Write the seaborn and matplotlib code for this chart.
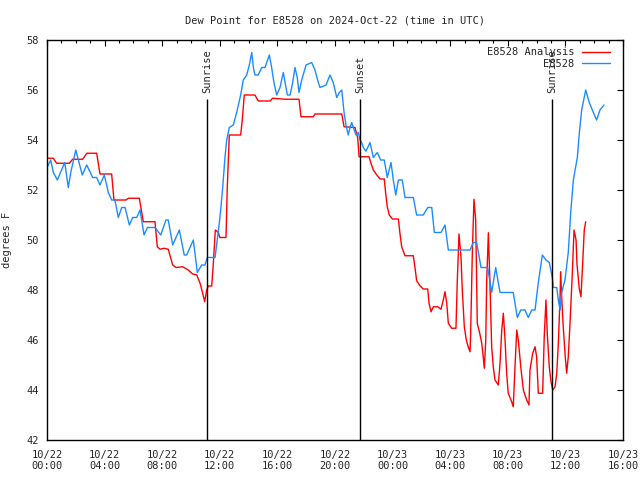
import matplotlib
matplotlib.use("Agg")
import matplotlib.pyplot as plt
import numpy as np
import pandas as pd
import seaborn as sns
from matplotlib.ticker import MultipleLocator

sns.set_theme(style="white")
plt.rcParams["font.family"] = ["DejaVu Sans Mono", "DejaVu Sans"]

# hours since 2024-10-22 00:00 UTC, dew point in degrees F
obs_hours = [0.0, 0.26, 0.44, 0.72, 1.23, 1.48, 1.65, 2.0, 2.45, 2.76, 3.17, 3.45, 3.68, 3.98,
             4.26, 4.49, 4.72, 4.95, 5.19, 5.42, 5.72, 5.95, 6.23, 6.46, 6.74, 6.97, 7.5, 7.9,
             8.26, 8.42, 8.73, 9.19, 9.53, 9.7, 10.16, 10.44, 10.74, 10.97, 11.13, 11.67, 11.8,
             11.95, 12.06, 12.2, 12.36, 12.48, 12.66, 12.94, 13.17, 13.45, 13.63, 13.87, 14.05,
             14.22, 14.33, 14.44, 14.67, 14.91, 15.14, 15.44, 15.6, 15.76, 15.95, 16.18, 16.41,
             16.69, 16.88, 17.06, 17.22, 17.38, 17.5, 17.69, 17.99, 18.38, 18.61, 18.84, 18.96,
             19.38, 19.65, 19.88, 20.12, 20.3, 20.47, 20.63, 20.76, 20.92, 21.04, 21.16, 21.27,
             21.46, 21.62, 21.74, 21.85, 21.97, 22.15, 22.43, 22.66, 22.94, 23.17, 23.42, 23.63,
             23.89, 24.05, 24.22, 24.4, 24.67, 24.86, 25.44, 25.67, 26.13, 26.44, 26.72, 26.9,
             27.36, 27.64, 27.87, 29.38, 29.6, 29.84, 30.14, 30.6, 30.88, 31.16, 31.46, 32.38,
             32.66, 32.9, 33.19, 33.42, 33.66, 33.89, 34.12, 34.4, 34.65, 34.88, 35.09, 35.16,
             35.4, 35.51, 35.63, 35.74, 35.97, 36.2, 36.37, 36.55, 36.83, 36.97, 37.13, 37.41,
             37.66, 37.94, 38.17, 38.4, 38.68]
obs_dewpt = [52.9, 53.2, 52.7, 52.4, 53.1, 52.1, 52.7, 53.6, 52.6, 53.0, 52.5, 52.5, 52.2, 52.6,
             51.9, 51.6, 51.6, 50.9, 51.3, 51.3, 50.6, 50.9, 50.9, 51.2, 50.2, 50.5, 50.5, 50.2,
             50.8, 50.8, 49.8, 50.4, 49.4, 49.4, 50.0, 48.7, 49.0, 49.0, 49.3, 49.3, 49.9,
             50.6, 51.2, 52.1, 53.3, 54.0, 54.5, 54.6, 55.1, 55.8, 56.4, 56.6, 57.0,
             57.5, 56.9, 56.6, 56.6, 56.9, 56.9, 57.4, 56.9, 56.3, 55.8, 56.1, 56.7,
             55.8, 55.8, 56.3, 56.9, 56.5, 55.9, 56.4, 57.0, 57.1, 56.8, 56.3, 56.1,
             56.2, 56.6, 56.3, 55.7, 55.9, 56.0, 55.1, 54.6, 54.2, 54.5, 54.7, 54.5,
             54.2, 54.3, 54.0, 53.9, 53.7, 53.55, 53.9, 53.3, 53.5, 53.2, 53.2, 52.5,
             53.1, 52.4, 51.8, 52.4, 52.4, 51.7, 51.7, 51.0, 51.0, 51.3, 51.3, 50.3,
             50.3, 50.6, 49.6, 49.6, 49.9, 49.9, 48.9, 48.9, 47.9, 48.9, 47.9, 47.9,
             46.9, 47.2, 47.2, 46.9, 47.2, 47.2, 48.3, 49.4, 49.2, 49.1, 48.5, 48.1,
             48.1, 47.6, 47.2, 47.9, 48.4, 49.5, 51.1, 52.4, 53.3, 54.3, 55.2, 56.0,
             55.5, 55.1, 54.8, 55.2, 55.4]

ana_hours = [0.0, 0.44, 0.67, 1.55, 1.78, 2.48, 2.76, 3.45, 3.68, 4.49, 4.65, 5.49, 5.65, 6.41,
             6.69, 7.5, 7.66, 7.85, 8.13, 8.42, 8.73, 8.96, 9.42, 9.81, 10.12, 10.4, 10.63,
             10.81, 10.95, 11.09, 11.2, 11.44, 11.55, 11.69, 11.9, 12.0, 12.43, 12.52, 12.66,
             13.45, 13.56, 13.7, 14.44, 14.67, 15.49, 15.67, 16.53, 17.5, 17.64, 18.49, 18.61,
             20.47, 20.63, 21.39, 21.58, 21.67, 22.36, 22.5, 22.66, 22.9, 23.13, 23.42, 23.52,
             23.63, 23.77, 23.98, 24.4, 24.51, 24.63, 24.86, 25.44, 25.56, 25.67, 25.9, 26.13,
             26.44, 26.53, 26.67, 26.83, 27.13, 27.36, 27.52, 27.64, 27.76, 27.87, 28.1, 28.4,
             28.49, 28.61, 28.75, 28.84, 28.98, 29.12, 29.26, 29.38, 29.42, 29.53, 29.65, 29.77,
             29.88, 30.05, 30.19, 30.28, 30.37, 30.47, 30.53, 30.65, 30.76, 30.88, 30.99, 31.11,
             31.34, 31.46, 31.58, 31.69, 31.81, 31.92, 32.03, 32.27, 32.38, 32.5, 32.62, 32.73,
             32.9, 33.08, 33.31, 33.47, 33.54, 33.73, 33.89, 34.0, 34.12, 34.42, 34.53, 34.65,
             34.74, 34.88, 35.0, 35.12, 35.28, 35.4, 35.51, 35.63, 35.67, 35.74, 35.85, 35.99,
             36.09, 36.2, 36.32, 36.46, 36.6, 36.74, 36.8, 36.96, 37.08, 37.2, 37.31, 37.41]
ana_dewpt = [53.27, 53.27, 53.07, 53.07, 53.23, 53.23, 53.47, 53.47, 52.64, 52.64, 51.6, 51.6,
             51.67, 51.67, 50.73, 50.73, 49.73, 49.63, 49.67, 49.63, 49.0, 48.9, 48.93, 48.8,
             48.64, 48.6, 48.27, 47.87, 47.53, 48.0, 48.16, 48.16, 49.07, 50.4, 50.3, 50.1,
             50.1, 52.13, 54.2, 54.2, 54.8, 55.8, 55.8, 55.56, 55.56, 55.67, 55.63, 55.63,
             54.93, 54.93, 55.04, 55.04, 54.53, 54.5, 54.07, 53.33, 53.33, 53.07, 52.8, 52.6,
             52.44, 52.44, 51.87, 51.33, 51.0, 50.84, 50.84, 50.27, 49.73, 49.37, 49.37, 48.87,
             48.37, 48.17, 48.04, 48.04, 47.47, 47.13, 47.33, 47.33, 47.23, 47.6, 47.93, 47.47,
             46.67, 46.47, 46.47, 48.33, 50.24, 49.33, 48.0, 46.53, 46.0, 45.71, 45.53, 46.27,
             49.33, 51.63, 50.8, 46.67, 46.27, 45.87, 45.4, 44.87, 46.0, 48.27, 50.29, 48.27,
             45.73, 44.93, 44.4, 44.2, 45.07, 46.4, 47.07, 46.0, 44.67, 43.87, 43.53, 43.33,
             44.93, 46.4, 46.0, 44.93, 44.0, 43.6, 43.4, 44.8, 45.47, 45.73, 45.33, 43.87,
             43.87, 46.13, 47.6, 46.27, 44.93, 44.33, 44.0, 44.13, 44.67, 45.87, 47.73, 48.73,
             47.73, 46.53, 45.33, 44.67, 45.33, 46.67, 48.4, 50.4, 50.0, 49.07, 48.07, 47.73,
             49.07, 50.4, 50.73]

event_names = ["Sunrise", "Sunset", "Sunrise"]
event_hours = [11.11, 21.74, 35.07]

tick_hours = list(range(0, 41, 4))
tick_labels = ["10/22\n00:00", "10/22\n04:00", "10/22\n08:00", "10/22\n12:00", "10/22\n16:00",
               "10/22\n20:00", "10/23\n00:00", "10/23\n04:00", "10/23\n08:00", "10/23\n12:00",
               "10/23\n16:00"]

ana = pd.DataFrame({"hour": ana_hours, "dewpt": ana_dewpt})
obs = pd.DataFrame({"hour": obs_hours, "dewpt": obs_dewpt})

fig = plt.figure(figsize=(6.4, 4.8), dpi=100)
ax = fig.add_axes([47 / 640, 40 / 480, 576 / 640, 400 / 480])

sns.lineplot(data=ana, x="hour", y="dewpt", ax=ax, color="#ff0000", lw=1.0,
             sort=False, estimator=None, label="E8528 Analysis")
sns.lineplot(data=obs, x="hour", y="dewpt", ax=ax, color="#1a8cff", lw=1.0,
             sort=False, estimator=None, label="E8528")

# sunrise / sunset markers
ax.vlines(event_hours, 42, 55.65, colors="black", lw=1.0)
for name, h in zip(event_names, event_hours):
    ax.text(h, 55.88, name, rotation=90, ha="center", va="bottom", fontsize=7.5)

ax.set_xlim(0, 40)
ax.set_ylim(42, 58)
ax.set_xticks(tick_hours)
ax.set_xticklabels(tick_labels)
ax.xaxis.set_minor_locator(MultipleLocator(1))
ax.yaxis.set_major_locator(MultipleLocator(2))
ax.tick_params(which="both", direction="in", top=True, right=True, labelsize=7.5,
               color="black", width=0.8)
ax.tick_params(which="major", length=4.5)
ax.tick_params(which="minor", length=2.5)
ax.tick_params(axis="x", pad=7)
ax.tick_params(axis="y", pad=6)
for s in ax.spines.values():
    s.set_color("black")
    s.set_linewidth(1.0)

ax.set_xlabel("")
ax.set_ylabel("degrees F", fontsize=7.5, labelpad=10)
ax.set_title("Dew Point for E8528 on 2024-Oct-22 (time in UTC)", fontsize=7.5, pad=12)

ax.legend(loc="upper right", bbox_to_anchor=(0.99, 1.0), frameon=False, markerfirst=False,
          fontsize=7.5, handlelength=2.7, handletextpad=0.7, labelspacing=0.15, borderpad=0.2)

fig.savefig("out.png", dpi=100)
